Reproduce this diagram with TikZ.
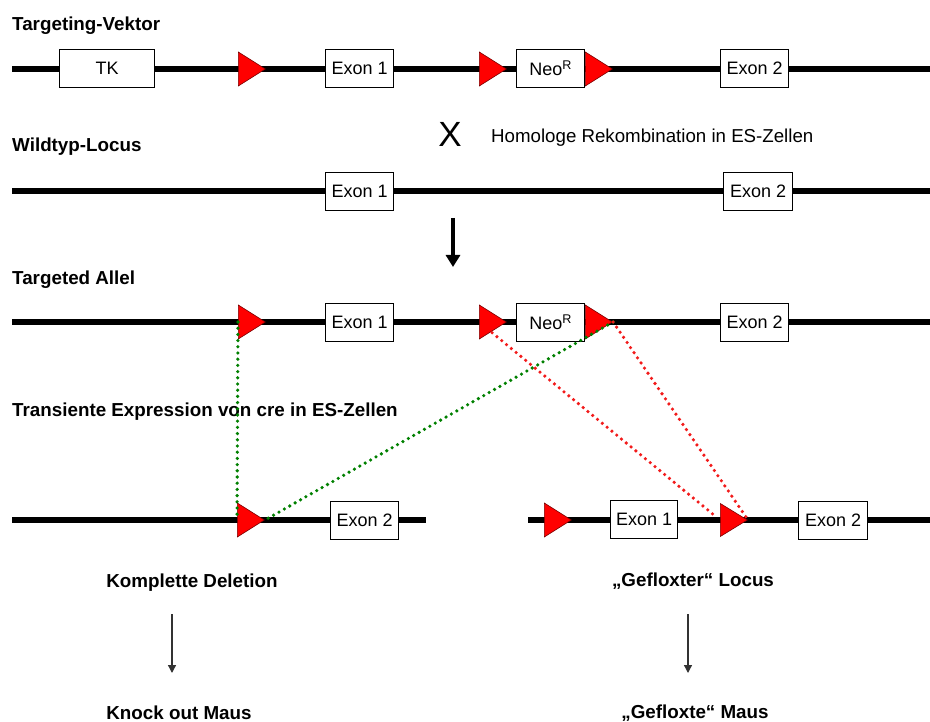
\documentclass[tikz,border=0pt]{standalone}
\usepackage{fontspec}
\setmainfont{Liberation Sans}
\usetikzlibrary{shapes.geometric, arrows.meta, backgrounds}
\definecolor{loxred}{HTML}{FF0000}
\definecolor{loxedge}{HTML}{7A0000}
\definecolor{cregreen}{HTML}{008000}
\definecolor{credred}{HTML}{F21B1B}

\begin{document}
\begin{tikzpicture}[
    x=1pt, y=-1pt,
    dna/.style={line width=5.5pt, draw=black},
    genebox/.style={
        draw=black, line width=1.2pt, fill=white,
        rectangle, inner sep=0pt, anchor=north west,
        minimum width=#1, minimum height=38pt,
        font=\fontsize{18}{20}\selectfont,
    },
    genebox/.default=68pt,
    loxp/.style={
        isosceles triangle, isosceles triangle stretches,
        shape border rotate=0, anchor=west,
        draw=loxedge, line width=0.6pt, fill=loxred,
        minimum width=34pt, minimum height=27pt, inner sep=0pt,
    },
    rowlabel/.style={anchor=base west, inner sep=0pt, font=\fontsize{18.8}{20}\selectfont\bfseries},
    caption/.style={anchor=base, inner sep=0pt, font=\fontsize{18.8}{20}\selectfont\bfseries},
    creline/.style={line width=3.6pt, line cap=round, dash pattern=on 0pt off 6.2pt, draw=#1},
    bigarrow/.style={-{Triangle[length=12pt, width=14pt]}, line width=4pt},
    smallarrow/.style={-{Triangle[length=8pt, width=8pt]}, line width=1.3pt, draw=black!80},
]
\useasboundingbox (0,0) rectangle (930,722);

% Targeting-Vektor
\node[rowlabel] (lblvector) at (12,31) {Targeting-Vektor};
\node[genebox=95pt] (tk) at (59,49) {TK};
\node[loxp] (vlox1) at (238,69) {};
\node[genebox] (vexon1) at (325,49) {Exon 1};
\node[loxp] (vlox2) at (479,69) {};
\node[genebox] (vneo) at (516,49) {Neo\textsuperscript{R}};
\node[loxp] (vlox3) at (585,69) {};
\node[genebox] (vexon2) at (720,49) {Exon 2};

\node[anchor=base, inner sep=0pt, font=\fontsize{35}{36}\selectfont] (cross) at (450,147) {X};
\node[anchor=base west, inner sep=0pt, font=\fontsize{18.7}{20}\selectfont] (lblhr) at (491,143) {Homologe Rekombination in ES-Zellen};

% Wildtyp-Locus
\node[rowlabel] (lblwt) at (12,152) {Wildtyp-Locus};
\node[genebox] (wexon1) at (325,172) {Exon 1};
\node[genebox=69pt] (wexon2) at (723,172) {Exon 2};

\coordinate (recstart) at (453,218);
\coordinate (recend) at (453,267);
\draw[bigarrow] (recstart) -- (recend);

% Targeted Allel
\node[rowlabel] (lblta) at (12,285) {Targeted Allel};
\node[loxp] (tlox1) at (238,322) {};
\node[genebox] (texon1) at (325,303) {Exon 1};
\node[loxp] (tlox2) at (479,322) {};
\node[genebox] (tneo) at (516,303) {Neo\textsuperscript{R}};
\node[loxp] (tlox3) at (585,322) {};
\node[genebox] (texon2) at (720,303) {Exon 2};

\node[rowlabel] (lblcre) at (12,416) {Transiente Expression von cre in ES-Zellen};

% Deletion und gefloxter Locus
\node[loxp] (dlox) at (237,520) {};
\node[genebox] (dexon2) at (330,501) {Exon 2};
\node[loxp] (flox1) at (544,520) {};
\node[genebox=67pt] (fexon1) at (610,500) {Exon 1};
\node[loxp, minimum width=33pt] (flox2) at (720,520) {};
\node[genebox=69pt] (fexon2) at (798,501) {Exon 2};

\node[caption] (lbldel) at (192,587) {Komplette Deletion};
\node[caption] (lblko) at (179,719) {Knock out Maus};
\node[caption] (lblflox) at (693,586) {„Gefloxter“ Locus};
\node[caption] (lblfmaus) at (695,718) {„Gefloxte“ Maus};

\coordinate (kostart) at (172,614);
\coordinate (koend) at (172,673);
\coordinate (flstart) at (688,614);
\coordinate (flend) at (688,673);
\draw[smallarrow] (kostart) -- (koend);
\draw[smallarrow] (flstart) -- (flend);

% cre-Rekombination
\draw[creline=cregreen] (tlox1.west) -- (dlox.west);
\draw[creline=cregreen] (tlox3.apex) -- (dlox.apex);
\draw[creline=credred, shorten <=17pt, shorten >=6pt] (tlox2.west) -- (flox2.west);
\draw[creline=credred] (tlox3.apex) -- (flox2.apex);

\begin{scope}[on background layer]
    \draw[dna] (12,69) -- (930,69);
    \draw[dna] (12,191) -- (930,191);
    \draw[dna] (12,322) -- (930,322);
    \draw[dna] (12,520) -- (426,520);
    \draw[dna] (528,520) -- (930,520);
\end{scope}
\end{tikzpicture}
\end{document}
